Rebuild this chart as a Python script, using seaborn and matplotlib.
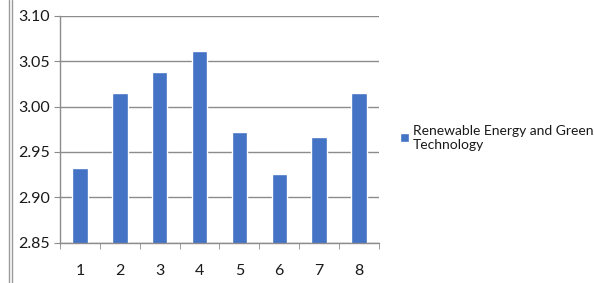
import matplotlib
matplotlib.use("Agg")
import matplotlib.pyplot as plt
import pandas as pd
import seaborn as sns
from matplotlib.lines import Line2D

# values
categories = ['1', '2', '3', '4', '5', '6', '7', '8']
scores = [2.932, 3.015, 3.038, 3.061, 2.972, 2.926, 2.966, 3.015]
series_name = 'Renewable Energy and Green\nTechnology'
yticks = [2.85, 2.90, 2.95, 3.00, 3.05, 3.10]

df = pd.DataFrame({'cat': categories, 'val': scores, 'series': series_name})

sns.set_style("white")
plt.rcParams['font.family'] = ['Lato', 'DejaVu Sans']

fig = plt.figure(figsize=(5.94, 2.83), dpi=100)
ax = fig.add_axes([0.101, 0.1424, 0.537, 0.8021])

sns.barplot(data=df, x='cat', y='val', hue='series', palette=['#4472C4'],
            saturation=1, width=0.39, ax=ax, legend=True)

ax.set_ylim(2.85, 3.10)
ax.set_yticks(yticks)
ax.set_yticklabels([f'{t:.2f}' for t in yticks])
ax.set_xlabel('')
ax.set_ylabel('')
ax.grid(axis='y', color='#8c8c8c', linewidth=1.0)
ax.set_axisbelow(True)
for s in ['top', 'right']:
    ax.spines[s].set_visible(False)
for s in ['left', 'bottom']:
    ax.spines[s].set_color('#8c8c8c')
    ax.spines[s].set_linewidth(1.0)

# category-boundary ticks on x, like Excel
ax.set_xticks([i + 0.5 for i in range(-1, 8)], minor=True)
ax.tick_params(axis='x', which='minor', length=4, color='#8c8c8c', bottom=True)
ax.tick_params(axis='x', which='major', length=0, labelsize=11.5, pad=15, labelcolor='#1a1a1a')
ax.tick_params(axis='y', length=4, color='#8c8c8c', left=True, labelsize=11.5,
               pad=3, labelcolor='#1a1a1a')

leg = ax.legend(loc='center left', bbox_to_anchor=(0.674, 0.514),
                bbox_transform=fig.transFigure, frameon=False, fontsize=10,
                handlelength=0.6, handleheight=0.6, handletextpad=0.3,
                borderaxespad=0, borderpad=0)
for t in leg.get_texts():
    t.set_color('#1a1a1a')
    t.set_linespacing(1.2)

# double border line on the left edge of the original screenshot
for xf in [8.5 / 594, 11.5 / 594]:
    fig.add_artist(Line2D([xf, xf], [0, 1], transform=fig.transFigure,
                          color='#9a9a9a', linewidth=1.0))

fig.savefig('out.png', dpi=100)
